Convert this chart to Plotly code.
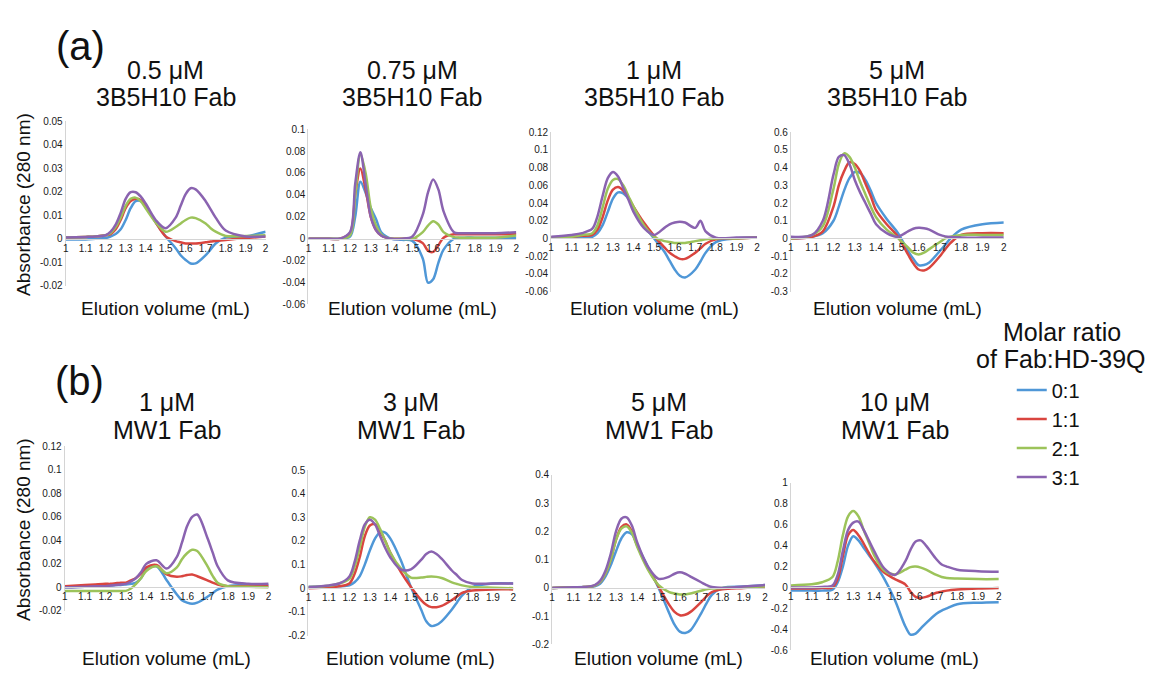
import plotly.graph_objects as go

W, H = 1159, 675
FONT = "Liberation Sans, Arial, sans-serif"

# ---------------- data ----------------
X = [1.0, 1.1, 1.15, 1.2, 1.225, 1.25, 1.275, 1.3, 1.325, 1.35, 1.375, 1.4, 1.45,
     1.5, 1.55, 1.575, 1.6, 1.625, 1.65, 1.7, 1.725, 1.75, 1.8, 1.9, 2.0]
X_TICKS = [1, 1.1, 1.2, 1.3, 1.4, 1.5, 1.6, 1.7, 1.8, 1.9, 2]
X_TICK_LABELS = ["1", "1.1", "1.2", "1.3", "1.4", "1.5", "1.6", "1.7", "1.8", "1.9", "2"]

RATIOS = ["0:1", "1:1", "2:1", "3:1"]
COLORS = ["#4f97d7", "#d9453f", "#9cc35a", "#8a63b0"]

# (a) 3B5H10 Fab
a1_01 = [-0.0003, -0.0003, 0.0, 0.0003, 0.001, 0.002, 0.004, 0.008, 0.013, 0.016, 0.016, 0.014, 0.007,
         0.001, -0.004, -0.007, -0.009, -0.0105, -0.0105, -0.007, -0.0045, -0.002, 0.0005, 0.001, 0.003]
a1_11 = [0.0005, 0.0008, 0.001, 0.0015, 0.002, 0.004, 0.008, 0.013, 0.016, 0.017, 0.0165, 0.014, 0.007,
         0.001, -0.001, -0.0015, -0.002, -0.002, -0.002, -0.0015, -0.0012, -0.001, -0.0005, 0.0003, 0.001]
a1_21 = [0.0005, 0.0008, 0.001, 0.0015, 0.0025, 0.005, 0.009, 0.014, 0.017, 0.0175, 0.016, 0.013, 0.007,
         0.003, 0.005, 0.0065, 0.008, 0.009, 0.0088, 0.0065, 0.0045, 0.003, 0.0012, 0.0012, 0.0015]
a1_31 = [0.0005, 0.0008, 0.001, 0.0015, 0.003, 0.006, 0.011, 0.017, 0.0198, 0.0198, 0.018, 0.015, 0.008,
         0.0045, 0.009, 0.014, 0.019, 0.0215, 0.021, 0.016, 0.0125, 0.009, 0.0035, 0.001, 0.001]

a2_01 = [0, 0, 0, 0.002, 0.02, 0.052, 0.042, 0.028, 0.018, 0.006, 0.002, 0.0, -0.001,
         -0.002, -0.018, -0.04, -0.037, -0.022, -0.01, 0.0, 0.0008, 0.001, 0.001, 0.001, 0.001]
a2_11 = [0, 0, 0, 0.005, 0.04, 0.064, 0.045, 0.02, 0.008, 0.003, 0.001, 0.0, 0.0,
         0.0, -0.004, -0.011, -0.012, -0.006, 0.001, 0.004, 0.004, 0.004, 0.004, 0.004, 0.004]
a2_21 = [0, 0, 0, 0.003, 0.04, 0.077, 0.06, 0.028, 0.012, 0.004, 0.001, 0.0, 0.0,
         0.0, 0.006, 0.012, 0.016, 0.013, 0.006, 0.0015, 0.001, 0.001, 0.001, 0.001, 0.003]
a2_31 = [0, 0, 0, 0.006, 0.05, 0.079, 0.05, 0.02, 0.008, 0.003, 0.001, 0.0, 0.0,
         0.002, 0.022, 0.042, 0.054, 0.045, 0.025, 0.006, 0.005, 0.005, 0.005, 0.005, 0.006]

a3_01 = [0.001, 0.001, 0.001, 0.002, 0.006, 0.015, 0.03, 0.045, 0.052, 0.051, 0.045, 0.035, 0.015,
         0.0, -0.015, -0.025, -0.035, -0.042, -0.044, -0.035, -0.026, -0.016, -0.004, 0.0, 0.001]
a3_11 = [0.001, 0.002, 0.003, 0.004, 0.01, 0.024, 0.043, 0.055, 0.058, 0.054, 0.046, 0.036, 0.018,
         0.003, -0.01, -0.016, -0.02, -0.023, -0.023, -0.016, -0.011, -0.006, -0.001, 0.0, 0.001]
a3_21 = [0.001, 0.002, 0.004, 0.006, 0.015, 0.035, 0.056, 0.066, 0.067, 0.06, 0.048, 0.036, 0.015,
         0.002, -0.003, -0.004, -0.005, -0.005, -0.005, -0.003, -0.002, -0.001, 0.0, 0.0, 0.001]
a3_31 = [0.002, 0.004, 0.006, 0.011, 0.025, 0.048, 0.068, 0.075, 0.07, 0.057, 0.044, 0.03, 0.012,
         0.004, 0.012, 0.016, 0.018, 0.019, 0.018, 0.012, 0.02, 0.008, 0.001, 0.001, 0.001]

a4_01 = [0.0, 0.01, 0.03, 0.1, 0.18, 0.27, 0.34, 0.375, 0.37, 0.33, 0.27, 0.2, 0.11,
         0.035, -0.07, -0.115, -0.15, -0.15, -0.135, -0.07, -0.035, 0.0, 0.05, 0.08, 0.09]
a4_11 = [0.0, 0.01, 0.04, 0.18, 0.3, 0.38, 0.43, 0.42, 0.38, 0.31, 0.24, 0.16, 0.08,
         0.015, -0.09, -0.14, -0.175, -0.18, -0.165, -0.1, -0.06, -0.025, 0.02, 0.03, 0.03]
a4_21 = [0.0, 0.02, 0.07, 0.28, 0.42, 0.48, 0.46, 0.4, 0.32, 0.25, 0.18, 0.12, 0.05,
         0.005, -0.05, -0.08, -0.09, -0.08, -0.06, -0.02, 0.0, 0.01, 0.02, 0.02, 0.02]
a4_31 = [0.01, 0.02, 0.1, 0.36, 0.46, 0.47, 0.42, 0.33, 0.26, 0.2, 0.14, 0.08, 0.03,
         0.01, 0.04, 0.055, 0.06, 0.058, 0.05, 0.02, 0.012, 0.008, 0.005, 0.005, 0.005]

# (b) MW1 Fab
b1_01 = [0.0, 0.0005, 0.001, 0.001, 0.0015, 0.002, 0.002, 0.0025, 0.003, 0.004, 0.008, 0.015, 0.018,
         0.006, -0.006, -0.011, -0.013, -0.014, -0.013, -0.008, -0.005, -0.002, 0.001, 0.002, 0.002]
b1_11 = [0.001, 0.002, 0.0025, 0.003, 0.003, 0.0035, 0.004, 0.004, 0.006, 0.008, 0.012, 0.017, 0.019,
         0.011, 0.009, 0.0095, 0.0105, 0.011, 0.0095, 0.006, 0.004, 0.0025, 0.001, 0.001, 0.001]
b1_21 = [-0.003, -0.003, -0.003, -0.003, -0.003, -0.003, -0.003, -0.003, -0.001, 0.003, 0.008, 0.014, 0.018,
         0.012, 0.017, 0.024, 0.029, 0.032, 0.031, 0.018, 0.01, 0.004, 0.001, 0.0005, 0.0]
b1_31 = [0.0, 0.0005, 0.001, 0.001, 0.0015, 0.002, 0.0025, 0.003, 0.005, 0.008, 0.013, 0.02, 0.023,
         0.016, 0.026, 0.038, 0.052, 0.06, 0.062, 0.042, 0.03, 0.018, 0.006, 0.003, 0.003]

b2_01 = [0.005, 0.007, 0.008, 0.012, 0.025, 0.05, 0.1, 0.16, 0.21, 0.237, 0.235, 0.21, 0.12,
         0.005, -0.09, -0.14, -0.16, -0.155, -0.14, -0.09, -0.06, -0.03, 0.005, 0.02, 0.02]
b2_11 = [0.0, 0.004, 0.008, 0.02, 0.06, 0.13, 0.22, 0.265, 0.27, 0.24, 0.2, 0.15, 0.07,
         0.005, -0.05, -0.07, -0.08, -0.08, -0.075, -0.05, -0.035, -0.02, -0.01, -0.005, -0.005]
b2_21 = [0.005, 0.01, 0.02, 0.04, 0.09, 0.17, 0.26, 0.3, 0.29, 0.25, 0.2, 0.15, 0.085,
         0.045, 0.045, 0.048, 0.05, 0.048, 0.043, 0.025, 0.018, 0.012, 0.005, 0.002, 0.0]
b2_31 = [0.005, 0.012, 0.02, 0.05, 0.11, 0.2, 0.27, 0.29, 0.27, 0.22, 0.17, 0.13, 0.08,
         0.08, 0.12, 0.145, 0.155, 0.145, 0.125, 0.075, 0.055, 0.035, 0.02, 0.02, 0.02]

b3_01 = [0.0, 0.002, 0.003, 0.006, 0.015, 0.04, 0.08, 0.13, 0.175, 0.197, 0.19, 0.15, 0.075,
         0.0, -0.09, -0.13, -0.155, -0.16, -0.15, -0.09, -0.055, -0.025, 0.0, 0.005, 0.01]
b3_11 = [0.0, 0.002, 0.003, 0.008, 0.02, 0.05, 0.1, 0.17, 0.215, 0.225, 0.2, 0.15, 0.07,
         0.005, -0.06, -0.085, -0.097, -0.095, -0.085, -0.05, -0.03, -0.015, -0.005, 0.0, 0.005]
b3_21 = [0.0, 0.002, 0.003, 0.008, 0.02, 0.05, 0.1, 0.17, 0.21, 0.218, 0.195, 0.145, 0.065,
         0.01, -0.015, -0.02, -0.023, -0.023, -0.02, -0.01, -0.005, -0.002, 0.0, 0.002, 0.005]
b3_31 = [0.0, 0.002, 0.003, 0.01, 0.025, 0.06, 0.12, 0.2, 0.245, 0.25, 0.22, 0.16, 0.075,
         0.032, 0.04, 0.05, 0.055, 0.05, 0.04, 0.02, 0.01, 0.003, 0.0, 0.005, 0.01]

b4_01 = [-0.03, -0.03, -0.03, -0.02, 0.05, 0.2, 0.4, 0.49, 0.45, 0.38, 0.31, 0.24, 0.08,
         -0.12, -0.37, -0.45, -0.44, -0.39, -0.34, -0.25, -0.22, -0.2, -0.16, -0.145, -0.14]
b4_11 = [-0.01, -0.01, -0.005, 0.0, 0.08, 0.3, 0.5, 0.55, 0.5, 0.42, 0.33, 0.25, 0.14,
         0.08, 0.03, -0.04, -0.09, -0.1, -0.09, -0.05, -0.04, -0.03, -0.02, -0.01, -0.005]
b4_21 = [0.02, 0.03, 0.05, 0.1, 0.25, 0.5, 0.68, 0.73, 0.68, 0.55, 0.43, 0.31, 0.16,
         0.125, 0.17, 0.195, 0.2, 0.19, 0.17, 0.12, 0.1, 0.09, 0.085, 0.08, 0.08]
b4_31 = [0.0, 0.0, 0.005, 0.02, 0.12, 0.35, 0.55, 0.62, 0.63, 0.55, 0.45, 0.35, 0.18,
         0.12, 0.25, 0.36, 0.44, 0.45, 0.4, 0.27, 0.22, 0.2, 0.17, 0.155, 0.15]

TITLES_1 = ["0.5 μM", "0.75 μM", "1 μM", "5 μM", "1 μM", "3 μM", "5 μM", "10 μM"]
TITLES_2 = ["3B5H10 Fab"] * 4 + ["MW1 Fab"] * 4

Y_TICKS = [
    [-0.02, -0.01, 0, 0.01, 0.02, 0.03, 0.04, 0.05],
    [-0.06, -0.04, -0.02, 0, 0.02, 0.04, 0.06, 0.08, 0.1],
    [-0.06, -0.04, -0.02, 0, 0.02, 0.04, 0.06, 0.08, 0.1, 0.12],
    [-0.3, -0.2, -0.1, 0, 0.1, 0.2, 0.3, 0.4, 0.5, 0.6],
    [-0.02, 0, 0.02, 0.04, 0.06, 0.08, 0.1, 0.12],
    [-0.2, -0.1, 0, 0.1, 0.2, 0.3, 0.4, 0.5],
    [-0.2, -0.1, 0, 0.1, 0.2, 0.3, 0.4],
    [-0.6, -0.4, -0.2, 0, 0.2, 0.4, 0.6, 0.8, 1],
]

SERIES = [
    [a1_01, a1_11, a1_21, a1_31], [a2_01, a2_11, a2_21, a2_31],
    [a3_01, a3_11, a3_21, a3_31], [a4_01, a4_11, a4_21, a4_31],
    [b1_01, b1_11, b1_21, b1_31], [b2_01, b2_11, b2_21, b2_31],
    [b3_01, b3_11, b3_21, b3_31], [b4_01, b4_11, b4_21, b4_31],
]

# ---------------- layout (pixel boxes of each plot area) ----------------
BOXES = [
    (63, 264, 118, 285), (307, 516, 126, 304), (551, 758, 129, 291), (792, 1006, 129, 291),
    (62, 267, 448, 615), (307, 513, 472, 640), (552, 766, 477, 649), (792, 1001, 485, 655),
]

fig = go.Figure()
layout = dict(
    width=W, height=H, margin=dict(l=0, r=0, t=0, b=0),
    paper_bgcolor="white", plot_bgcolor="rgba(0,0,0,0)",
    font=dict(family=FONT, color="#111"),
    showlegend=True,
    legend=dict(x=1014 / W, y=1 - 371 / H, xanchor="left", yanchor="top",
                font=dict(size=20, family=FONT, color="#111"),
                bgcolor="rgba(0,0,0,0)", itemwidth=30, tracegroupgap=0),
)
annotations = []

def fmt(v):
    s = f"{v:g}"
    return "0" if s in ("-0", "0") else s

for i, (box, yt, ser) in enumerate(zip(BOXES, Y_TICKS, SERIES)):
    x0, x1, y0, y1 = box
    sfx = "" if i == 0 else str(i + 1)
    ymin, ymax = yt[0], yt[-1]
    pad = (ymax - ymin) * 1e-4
    d0, d1 = 1 - y1 / H, 1 - y0 / H
    zero_pos = d0 + (0 - ymin) / (ymax - ymin) * (d1 - d0)
    layout["xaxis" + sfx] = dict(
        domain=[x0 / W, x1 / W], range=[1, 2], anchor="free", position=zero_pos,
        tickvals=X_TICKS, ticktext=X_TICK_LABELS, ticks="", showgrid=False, zeroline=False,
        showline=True, linecolor="#d4d4d4", linewidth=1,
        tickfont=dict(size=10, family=FONT, color="#1a1a1a"), fixedrange=True,
    )
    layout["yaxis" + sfx] = dict(
        domain=[d0, d1], range=[ymin - pad, ymax + pad], anchor="x" + sfx,
        tickvals=yt, ticktext=[fmt(v) for v in yt], ticks="", showgrid=False, zeroline=False,
        showline=True, linecolor="#d4d4d4", linewidth=1,
        tickfont=dict(size=10, family=FONT, color="#1a1a1a"), fixedrange=True,
    )
    for k, ys in enumerate(ser):
        fig.add_trace(go.Scatter(
            x=X, y=ys, mode="lines", name=RATIOS[k],
            line=dict(color=COLORS[k], width=2.5, shape="spline", smoothing=0.9),
            xaxis="x" + sfx, yaxis="y" + sfx, showlegend=(i == 0), hoverinfo="skip",
        ))
    cx = (x0 + x1) / 2 / W
    row_a = i < 4
    t1y, t2y, xty = (66, 93, 308) if row_a else (403, 431, 663)
    annotations += [
        dict(text=TITLES_1[i], x=cx, y=1 - t1y / H, xref="paper", yref="paper",
             showarrow=False, xanchor="center", yanchor="middle", font=dict(size=25)),
        dict(text=TITLES_2[i], x=cx, y=1 - t2y / H, xref="paper", yref="paper",
             showarrow=False, xanchor="center", yanchor="middle", font=dict(size=25)),
        dict(text="Elution volume (mL)", x=cx, y=1 - xty / H, xref="paper", yref="paper",
             showarrow=False, xanchor="center", yanchor="middle", font=dict(size=19)),
    ]
    if i in (0, 4):
        annotations.append(dict(
            text="Absorbance (280 nm)", x=20 / W, y=1 - (202 if row_a else 532) / H,
            xref="paper", yref="paper", showarrow=False, textangle=-90,
            xanchor="center", yanchor="middle", font=dict(size=19)))

annotations += [
    dict(text="(a)", x=78 / W, y=1 - 42 / H, xref="paper", yref="paper", showarrow=False,
         xanchor="center", yanchor="middle", font=dict(size=40)),
    dict(text="(b)", x=77 / W, y=1 - 382 / H, xref="paper", yref="paper", showarrow=False,
         xanchor="center", yanchor="middle", font=dict(size=40)),
    dict(text="Molar ratio", x=1065 / W, y=1 - 332 / H, xref="paper", yref="paper",
         showarrow=False, xanchor="center", yanchor="middle", font=dict(size=25)),
    dict(text="of Fab:HD-39Q", x=1064 / W, y=1 - 359 / H, xref="paper", yref="paper",
         showarrow=False, xanchor="center", yanchor="middle", font=dict(size=25)),
]
layout["annotations"] = annotations
fig.update_layout(**layout)
fig.write_html("out.html")
